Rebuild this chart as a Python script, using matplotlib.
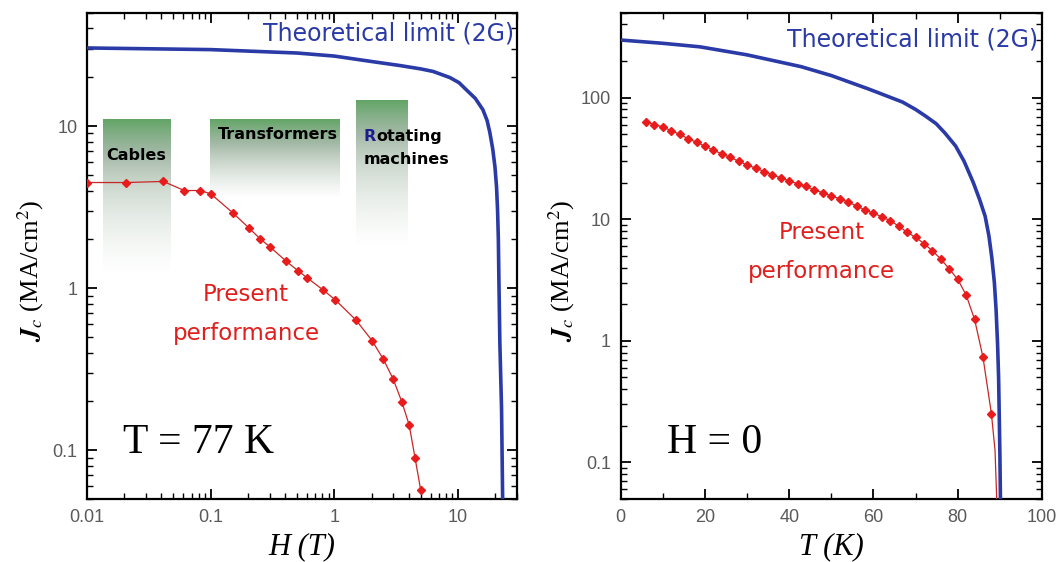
import numpy as np
import matplotlib

matplotlib.use("Agg")
import matplotlib.pyplot as plt  # noqa: E402
from matplotlib.colors import LinearSegmentedColormap  # noqa: E402
from matplotlib.ticker import FuncFormatter, LogLocator, MultipleLocator  # noqa: E402

# ---- data ----
# left panel: Jc vs H at 77 K
H_EXP = [0.01, 0.0207, 0.0414, 0.0612, 0.082, 0.1, 0.152, 0.205, 0.252, 0.303, 0.406,
         0.508, 0.60, 0.81, 1.02, 1.50, 2.02, 2.49, 2.99, 3.52, 4.03, 4.49, 4.99]
JC_H_EXP = [4.48, 4.48, 4.55, 4.0, 4.0, 3.82, 2.9, 2.34, 2.01, 1.79, 1.47,
            1.28, 1.16, 0.975, 0.845, 0.634, 0.474, 0.364, 0.275, 0.198, 0.143, 0.090, 0.057]
H_LIM = [0.01, 0.1, 0.5, 1.0, 2.0, 3.4, 5.0, 6.3, 8.6, 10.2, 11.7, 13.8, 15.9, 17.2, 18.1,
         19.1, 19.9, 20.5, 20.9, 21.2, 21.4, 21.8, 22.5, 23.0]
JC_H_LIM = [30.3, 29.6, 28.2, 27.0, 25.0, 23.6, 22.5, 21.7, 19.9, 18.5, 16.7, 14.8, 12.6, 10.8,
            9.1, 7.2, 5.6, 4.2, 3.0, 2.0, 1.17, 0.46, 0.18, 0.045]

# right panel: Jc vs T at H = 0
T_EXP = [6, 8, 10, 12, 14, 16, 18, 20, 22, 24, 26, 28, 30, 32, 34, 36, 38, 40, 42, 44, 46,
         48, 50, 52, 54, 56, 58, 60, 62, 64, 66, 68, 70, 72, 74, 76, 78, 80, 82, 84, 86, 88]
JC_T_EXP = [63, 60, 57.5, 53.5, 50, 46, 43, 40, 37, 34.5, 32.3, 30, 28, 26.4, 24.7, 23.2, 21.9,
            20.7, 19.6, 18.6, 17.4, 16.5, 15.5, 14.8, 13.8, 12.9, 11.9, 11.2, 10.5, 9.7, 8.8,
            7.8, 7.1, 6.3, 5.5, 4.7, 3.9, 3.2, 2.38, 1.5, 0.73, 0.25]
T_EXP_TAIL = [88.85, 89.25]
JC_T_EXP_TAIL = [0.126, 0.05]
T_LIM = [0, 10, 18.8, 30, 42.8, 50, 58.8, 62, 66.9, 70, 72.5, 74.9, 77, 79.5, 81.5, 83.7,
         85.2, 86.5, 87.4, 88.1, 88.7, 89.1, 89.45, 89.7, 90.0, 90.15]
JC_T_LIM = [298, 280, 262, 225, 180, 152, 118, 107, 92, 80, 70, 61, 51, 40, 30, 20,
            14.5, 10.6, 7.3, 4.8, 3.0, 1.8, 0.95, 0.5, 0.12, 0.045]

# application windows (H range, Jc top, Jc where the shading has faded out)
APPS = ["Cables", "Transformers", "Rotating", "machines"]
APP_H = [(0.0135, 0.048), (0.099, 1.13), (1.5, 4.0)]
APP_JC = [(11.1, 1.2), (11.1, 3.6), (14.7, 1.8)]

BLUE = "#2a3aa6"
RED_TXT = "#e0201e"
TICK_GRAY = "#5a5a5a"

plt.rcParams["mathtext.fontset"] = "stix"

green_fade = LinearSegmentedColormap.from_list(
    "fade", [(0.0, "#5fa463"), (0.45, "#a4b9a7"), (1.0, "#ffffff")])


def style_axes(ax):
    for s in ax.spines.values():
        s.set_linewidth(1.6)
    ax.tick_params(which="both", direction="in", top=True, right=True,
                   labelsize=13, labelcolor=TICK_GRAY)
    ax.tick_params(which="major", length=7, width=1.3, pad=7)
    ax.tick_params(which="minor", length=4, width=1.0)
    for lab in ax.get_xticklabels() + ax.get_yticklabels():
        lab.set_family("Liberation Sans")


def ylabel(ax, x):
    ax.text(x, 0.47, r"$\mathbfit{J}_{c}$ (MA/cm$^{2}$)", transform=ax.transAxes,
            rotation=90, ha="center", va="center", fontsize=19,
            family="Liberation Serif")


fig = plt.figure(figsize=(10.61, 5.62), dpi=100)
ax1 = fig.add_axes([87 / 1061, 63 / 562, 430 / 1061, 486.3 / 562])
ax2 = fig.add_axes([620.7 / 1061, 63 / 562, 421.3 / 1061, 486.3 / 562])

# ---- left: field dependence ----
ax1.set_xscale("log")
ax1.set_yscale("log")
ax1.set_xlim(0.01, 30)
ax1.set_ylim(0.05, 50)

grad = np.linspace(0, 1, 256).reshape(-1, 1)
for (h0, h1), (jtop, jbot) in zip(APP_H, APP_JC):
    ax1.imshow(grad, cmap=green_fade, extent=[h0, h1, jbot, jtop], origin="upper",
               aspect="auto", zorder=1, interpolation="bilinear")

ax1.plot(H_LIM, JC_H_LIM, color=BLUE, lw=2.6, zorder=3)
ax1.plot(H_EXP, JC_H_EXP, color="#c82626", lw=0.9, marker="D", ms=4.5,
         mfc="#e81c1c", mec="#e81c1c", zorder=4)

ax1.text(0.993, 0.958, "Theoretical limit (2G)", transform=ax1.transAxes, ha="right",
         va="center", fontsize=17, color=BLUE)
ax1.text(0.37, 0.421, "Present", transform=ax1.transAxes, ha="center", va="center",
         fontsize=16.5, color=RED_TXT)
ax1.text(0.37, 0.341, "performance", transform=ax1.transAxes, ha="center", va="center",
         fontsize=16.5, color=RED_TXT)
ax1.text(0.26, 0.115, "T = 77 K", transform=ax1.transAxes, ha="center", va="center",
         fontsize=30, family="Liberation Serif")

lab_kw = dict(fontsize=11.5, fontweight="bold")
ax1.text(0.114, 0.707, APPS[0], transform=ax1.transAxes, ha="center", va="center", **lab_kw)
ax1.text(0.445, 0.750, APPS[1], transform=ax1.transAxes, ha="center", va="center", **lab_kw)
# the "R" of Rotating is blue in the original
r_txt = ax1.text(0.644, 0.745, "R", transform=ax1.transAxes, ha="left", va="center",
                 color="#1c1c8c", **lab_kw)
ax1.annotate(APPS[2][1:], xy=(1, 0), xycoords=r_txt, ha="left", va="bottom", **lab_kw)
ax1.text(0.644, 0.698, APPS[3], transform=ax1.transAxes, ha="left", va="center", **lab_kw)

ax1.xaxis.set_major_locator(LogLocator(base=10, numticks=10))
ax1.xaxis.set_minor_locator(LogLocator(base=10, subs=np.arange(2, 10), numticks=20))
ax1.yaxis.set_major_locator(LogLocator(base=10, numticks=10))
ax1.yaxis.set_minor_locator(LogLocator(base=10, subs=np.arange(2, 10), numticks=20))
fmt = FuncFormatter(lambda v, _: f"{v:g}")
ax1.xaxis.set_major_formatter(fmt)
ax1.yaxis.set_major_formatter(fmt)
ax1.set_xlabel("H (T)", fontsize=22, family="Liberation Serif", style="italic", labelpad=5)
ylabel(ax1, -0.132)
style_axes(ax1)

# ---- right: temperature dependence ----
ax2.set_yscale("log")
ax2.set_xlim(0, 100)
ax2.set_ylim(0.05, 500)
ax2.plot(T_LIM, JC_T_LIM, color=BLUE, lw=2.6, zorder=3)
ax2.plot(T_EXP + T_EXP_TAIL, JC_T_EXP + JC_T_EXP_TAIL, color="#c82626", lw=0.9, zorder=4)
ax2.plot(T_EXP, JC_T_EXP, ls="none", marker="D", ms=4.5, mfc="#e81c1c", mec="#e81c1c",
         zorder=5)

ax2.text(0.99, 0.945, "Theoretical limit (2G)", transform=ax2.transAxes, ha="right",
         va="center", fontsize=17, color=BLUE)
ax2.text(0.477, 0.549, "Present", transform=ax2.transAxes, ha="center", va="center",
         fontsize=16.5, color=RED_TXT)
ax2.text(0.477, 0.467, "performance", transform=ax2.transAxes, ha="center", va="center",
         fontsize=16.5, color=RED_TXT)
ax2.text(0.224, 0.115, "H = 0", transform=ax2.transAxes, ha="center", va="center",
         fontsize=30, family="Liberation Serif")

ax2.xaxis.set_major_locator(MultipleLocator(20))
ax2.xaxis.set_minor_locator(MultipleLocator(10))
ax2.yaxis.set_major_locator(LogLocator(base=10, numticks=10))
ax2.yaxis.set_minor_locator(LogLocator(base=10, subs=np.arange(2, 10), numticks=20))
ax2.yaxis.set_major_formatter(fmt)
ax2.xaxis.set_major_formatter(FuncFormatter(lambda v, _: f"{v:g}"))
ax2.set_xlabel("T (K)", fontsize=22, family="Liberation Serif", style="italic", labelpad=5)
ylabel(ax2, -0.139)
style_axes(ax2)

fig.savefig("out.png", dpi=100, facecolor="white")
